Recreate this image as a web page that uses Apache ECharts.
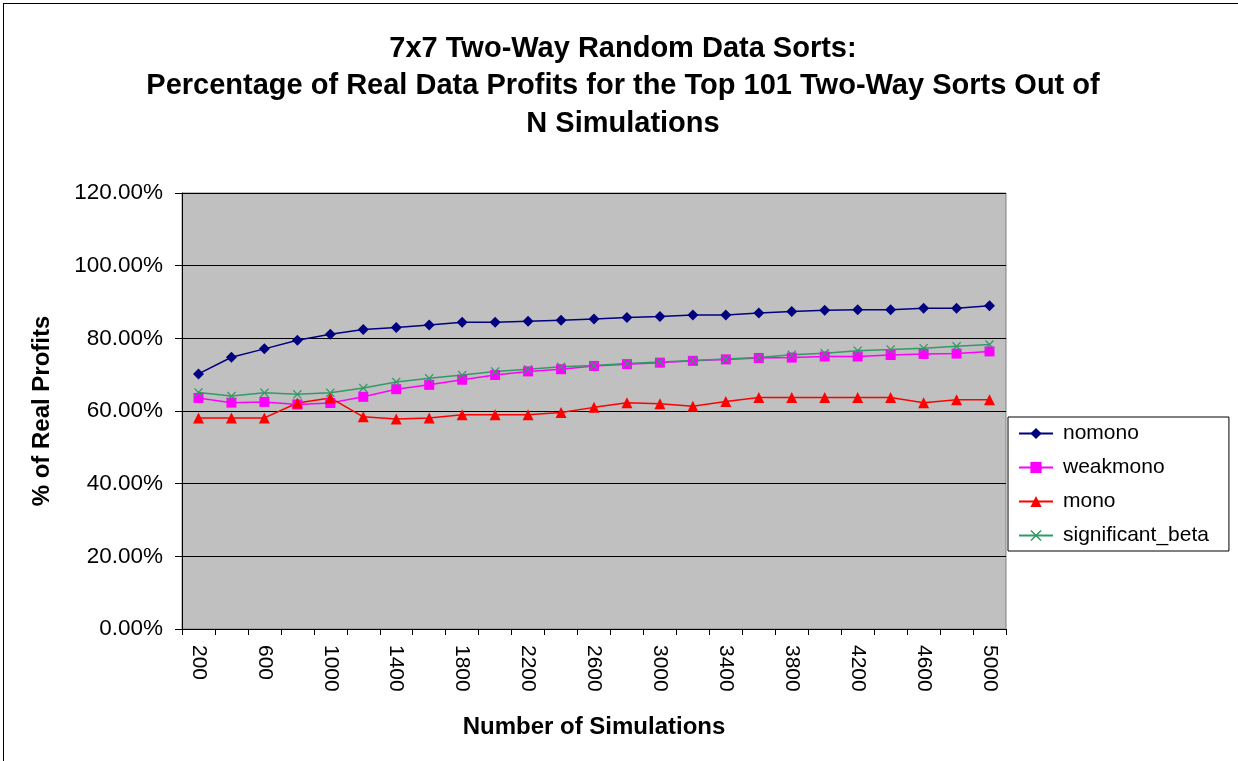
<!DOCTYPE html>
<html>
<head>
<meta charset="utf-8">
<title>7x7 Two-Way Random Data Sorts</title>
<script src="https://cdn.jsdelivr.net/npm/echarts@6/dist/echarts.min.js"></script>
<style>
    html, body { margin: 0; padding: 0; background: #fff; }
    #chart { position: absolute; left: 3px; top: 3px; width: 1240px; height: 760px; border: 1px solid #000; box-sizing: border-box; }
</style>
</head>
<body>
<div id="chart"></div>
<script>
// 数据
const simulations = ['200', '400', '600', '800', '1000', '1200', '1400', '1600', '1800', '2000',
    '2200', '2400', '2600', '2800', '3000', '3200', '3400', '3600', '3800', '4000',
    '4200', '4400', '4600', '4800', '5000']
const nomono = [70.2, 74.8, 77.1, 79.5, 81.1, 82.4, 83.0, 83.7, 84.4, 84.4, 84.7, 85.0,
    85.3, 85.7, 86.0, 86.4, 86.4, 87.0, 87.4, 87.7, 87.9, 87.9, 88.3, 88.3, 89.0]
const weakmono = [63.6, 62.3, 62.5, 61.8, 62.2, 63.9, 66.0, 67.2, 68.6, 69.9, 70.9, 71.5,
    72.4, 72.9, 73.3, 73.8, 74.2, 74.6, 74.7, 75.0, 75.0, 75.4, 75.7, 75.8, 76.4]
const mono = [58.1, 58.1, 58.1, 62.2, 63.6, 58.4, 57.8, 58.1, 59.0, 59.0, 59.0, 59.6,
    61.0, 62.3, 62.0, 61.3, 62.6, 63.7, 63.7, 63.7, 63.7, 63.7, 62.3, 63.1, 63.1]
const significantBeta = [65.1, 64.1, 65.0, 64.6, 65.0, 66.3, 68.0, 69.0, 69.9, 70.9, 71.5, 72.2,
    72.5, 73.1, 73.5, 73.9, 74.3, 74.7, 75.5, 75.9, 76.6, 76.9, 77.3, 77.8, 78.3]

const crossPath = 'path://M0,1L1,0L5,4L9,0L10,1L6,5L10,9L9,10L5,6L1,10L0,9L4,5Z'
const font = 'Liberation Sans, Arial, sans-serif'

function lineSeries(name, data, color, symbol, size) {
    return {
        name: name,
        type: 'line',
        data: data,
        symbol: symbol,
        symbolSize: size,
        showAllSymbol: true,
        lineStyle: { color: color, width: 1.5 },
        itemStyle: { color: color },
        emphasis: { disabled: true }
    }
}

let myChart = echarts.init(document.getElementById('chart'))
let option = {
    animation: false,
    textStyle: { fontFamily: font },
    title: {
        text: '7x7 Two-Way Random Data Sorts:\nPercentage of Real Data Profits for the Top 101 Two-Way Sorts Out of\nN Simulations',
        left: 'center',
        top: 21,
        textStyle: { fontSize: 29, fontWeight: 'bold', color: '#000', lineHeight: 37.5, fontFamily: font }
    },
    legend: {
        orient: 'vertical',
        left: 1004,
        top: 413,
        padding: [6, 20, 5, 10],
        itemGap: 13,
        itemWidth: 34,
        itemHeight: 14,
        borderColor: '#000',
        borderWidth: 1,
        backgroundColor: '#fff',
        textStyle: { fontSize: 21, color: '#000', fontFamily: font, padding: [0, 0, 0, 5] }
    },
    grid: {
        left: 178,
        right: 236,
        top: 189,
        bottom: 133,
        show: true,
        backgroundColor: '#c0c0c0',
        borderColor: '#808080',
        borderWidth: 1
    },
    xAxis: {
        type: 'category',
        data: simulations,
        boundaryGap: true,
        name: 'Number of Simulations',
        nameLocation: 'middle',
        nameGap: 86,
        nameTextStyle: { fontSize: 24, fontWeight: 'bold', color: '#000' },
        axisLine: { lineStyle: { color: '#000', width: 1 } },
        axisTick: { show: true, interval: 0, length: 6, lineStyle: { color: '#000' } },
        axisLabel: { interval: 1, rotate: -90, fontSize: 21, color: '#000', margin: 16 }
    },
    yAxis: {
        type: 'value',
        min: 0,
        max: 120,
        interval: 20,
        name: '% of Real Profits',
        nameLocation: 'middle',
        nameGap: 128,
        nameTextStyle: { fontSize: 24, fontWeight: 'bold', color: '#000' },
        axisLine: { show: true, lineStyle: { color: '#000', width: 1 } },
        axisTick: { show: true, length: 7, lineStyle: { color: '#000' } },
        axisLabel: { fontSize: 22.5, color: '#000', margin: 19, formatter: v => v.toFixed(2) + '%' },
        splitLine: { lineStyle: { color: '#000', width: 1 } }
    },
    series: [
        lineSeries('nomono', nomono, '#000080', 'diamond', 11),
        lineSeries('weakmono', weakmono, '#ff00ff', 'rect', 10),
        lineSeries('mono', mono, '#ff0000', 'triangle', 11),
        lineSeries('significant_beta', significantBeta, '#339966', crossPath, 9)
    ]
}
myChart.setOption(option)
</script>
</body>
</html>
